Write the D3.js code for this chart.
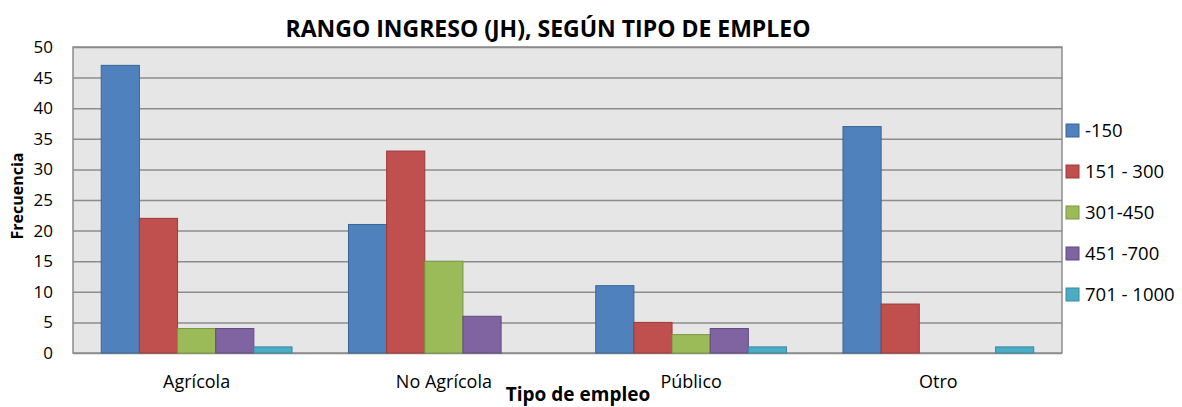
<!DOCTYPE html>
<html>
<head>
<meta charset="utf-8">
<script src="https://cdn.jsdelivr.net/npm/d3@7"></script>
<style>
  body { margin: 0; background: #fff; }
  text { font-family: "Open Sans", sans-serif; }
</style>
</head>
<body>
<svg id="chart" width="1182" height="407"></svg>
<script>
const categories = ["Agrícola", "No Agrícola", "Público", "Otro"]
const seriesNames = ["-150", "151 - 300", "301-450", "451 -700", "701 - 1000"]
const s150 = [47, 21, 11, 37]
const s300 = [22, 33, 5, 8]
const s450 = [4, 15, 3, 0]
const s700 = [4, 6, 4, 0]
const s1000 = [1, 0, 1, 1]
const yTicks = [0, 5, 10, 15, 20, 25, 30, 35, 40, 45, 50]

const seriesValues = [s150, s300, s450, s700, s1000]
const fills = ["#4f81bd", "#c0504d", "#9bbb59", "#8064a2", "#4bacc6"]
const strokes = ["#3a6595", "#9b3b38", "#7a9645", "#614b7f", "#3a8aa0"]

const svg = d3.select("#chart")
const plotLeft = 73, plotRight = 1062, plotTop = 47, plotBottom = 353

let x0 = d3.scaleBand().domain(categories).range([plotLeft, plotRight]).paddingInner(0).paddingOuter(0)
let x1 = d3.scaleBand().domain(seriesNames).range([0, x0.bandwidth()]).paddingInner(0).paddingOuter(0.74)
let y = d3.scaleLinear().domain([0, 50]).range([plotBottom, plotTop])

// plot background
svg.append("rect")
  .attr("x", plotLeft).attr("y", plotTop)
  .attr("width", plotRight - plotLeft).attr("height", plotBottom - plotTop)
  .attr("fill", "#e6e6e6")
  .attr("stroke", "#8c8c8c").attr("stroke-width", 1.5)

// gridlines + y labels
let yAxis = d3.axisLeft(y).tickValues(yTicks).tickSize(-(plotRight - plotLeft)).tickPadding(20)
let gy = svg.append("g").attr("transform", `translate(${plotLeft},0)`).call(yAxis)
gy.select(".domain").remove()
gy.selectAll(".tick line").attr("stroke", "#8c8c8c").attr("stroke-width", 1.5)
gy.selectAll(".tick text").attr("font-size", 17).attr("fill", "#000")
  .style("font-family", "Open Sans, sans-serif")

// bars
let groups = svg.append("g").selectAll("g")
  .data(categories)
  .join("g")
  .attr("transform", d => `translate(${x0(d)},0)`)

groups.selectAll("rect")
  .data((c, ci) => seriesNames.map((s, si) => ({ s, si, v: seriesValues[si][ci] })).filter(d => d.v > 0))
  .join("rect")
  .attr("x", d => x1(d.s))
  .attr("y", d => y(d.v))
  .attr("width", x1.bandwidth())
  .attr("height", d => plotBottom - y(d.v))
  .attr("fill", d => fills[d.si])
  .attr("stroke", d => strokes[d.si])
  .attr("stroke-width", 1)

// x labels
let xAxis = d3.axisBottom(x0).tickSize(0).tickPadding(22)
let gx = svg.append("g").attr("transform", `translate(0,${plotBottom})`).call(xAxis)
gx.select(".domain").remove()
gx.selectAll(".tick text").attr("font-size", 18).attr("fill", "#000")
  .style("font-family", "Open Sans, sans-serif")

// title
svg.append("text")
  .attr("x", 548).attr("y", 37)
  .attr("text-anchor", "middle")
  .attr("font-size", 23).attr("font-weight", "bold")
  .text("RANGO INGRESO (JH), SEGÚN TIPO DE EMPLEO")

// axis titles
svg.append("text")
  .attr("x", 578).attr("y", 401)
  .attr("text-anchor", "middle")
  .attr("font-size", 19).attr("font-weight", "bold")
  .text("Tipo de empleo")

svg.append("text")
  .attr("transform", "translate(23,196) rotate(-90)")
  .attr("text-anchor", "middle")
  .attr("font-size", 16).attr("font-weight", "bold")
  .text("Frecuencia")

// legend
let legend = svg.append("g").selectAll("g")
  .data(seriesNames)
  .join("g")
  .attr("transform", (d, i) => `translate(1066,${131 + i * 41})`)

legend.append("rect")
  .attr("x", 0).attr("y", -7).attr("width", 13).attr("height", 13)
  .attr("fill", (d, i) => fills[i])
  .attr("stroke", (d, i) => strokes[i])

legend.append("text")
  .attr("x", 19).attr("y", 6)
  .attr("font-size", 18.5)
  .text(d => d)
</script>
</body>
</html>
